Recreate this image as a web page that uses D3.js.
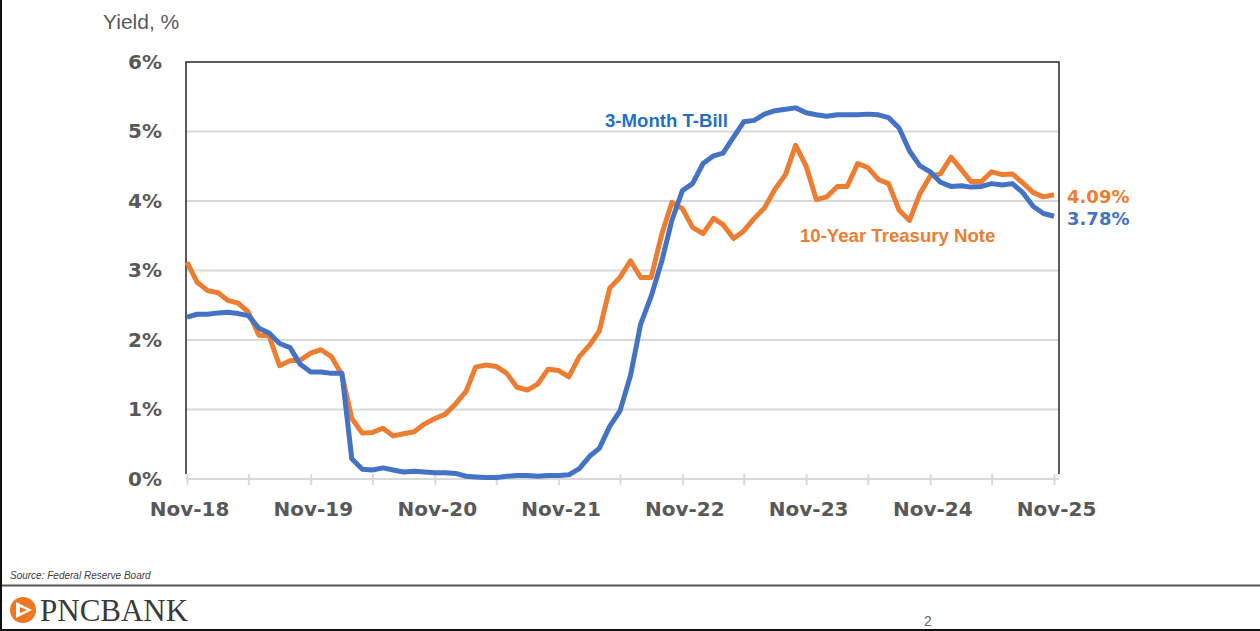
<!DOCTYPE html>
<html>
<head>
<meta charset="utf-8">
<script src="https://cdn.jsdelivr.net/npm/d3@7"></script>
<style>
  html, body { margin: 0; padding: 0; background: #fff; }
  svg { display: block; }
</style>
</head>
<body>
<div id="chart"></div>
<script>
// monthly averages, Nov-18 .. Nov-25
var firstMonth = new Date(2018, 10, 1);
var lastMonth = new Date(2025, 10, 1);
var months = d3.timeMonth.range(firstMonth, d3.timeMonth.offset(lastMonth, 1));

var tbill = [2.33, 2.37, 2.37, 2.39, 2.40, 2.38, 2.35, 2.17, 2.10, 1.95, 1.89, 1.65,
  1.54, 1.54, 1.52, 1.52, 0.29, 0.14, 0.13, 0.16, 0.13, 0.10, 0.11, 0.10,
  0.09, 0.09, 0.08, 0.04, 0.03, 0.02, 0.02, 0.04, 0.05, 0.05, 0.04, 0.05,
  0.05, 0.06, 0.15, 0.33, 0.44, 0.76, 0.98, 1.49, 2.23, 2.63, 3.13, 3.72,
  4.15, 4.25, 4.54, 4.65, 4.69, 4.92, 5.14, 5.16, 5.25, 5.30, 5.32, 5.34,
  5.27, 5.24, 5.22, 5.24, 5.24, 5.24, 5.25, 5.24, 5.20, 5.05, 4.72, 4.51,
  4.42, 4.27, 4.21, 4.22, 4.20, 4.21, 4.25, 4.23, 4.25, 4.12, 3.92, 3.82,
  3.78];

var note10y = [3.12, 2.83, 2.71, 2.68, 2.57, 2.53, 2.40, 2.07, 2.06, 1.63, 1.70, 1.71,
  1.81, 1.86, 1.76, 1.50, 0.87, 0.66, 0.67, 0.73, 0.62, 0.65, 0.68, 0.79,
  0.87, 0.93, 1.08, 1.26, 1.61, 1.64, 1.62, 1.52, 1.32, 1.28, 1.37, 1.58,
  1.56, 1.47, 1.76, 1.93, 2.13, 2.75, 2.90, 3.14, 2.90, 2.90, 3.52, 3.98,
  3.89, 3.62, 3.53, 3.75, 3.66, 3.46, 3.57, 3.75, 3.90, 4.17, 4.38, 4.80,
  4.50, 4.02, 4.06, 4.21, 4.21, 4.54, 4.48, 4.31, 4.25, 3.87, 3.72, 4.10,
  4.36, 4.39, 4.63, 4.45, 4.28, 4.28, 4.42, 4.38, 4.39, 4.26, 4.12, 4.06,
  4.09];

var yTicks = [0, 1, 2, 3, 4, 5, 6];
var seriesNames = ["3-Month T-Bill", "10-Year Treasury Note"];

var width = 1260, height = 631;
var plotLeft = 187, plotRight = 1054, plotTop = 62, plotBottom = 479;
var boxRight = 1059;

var blue = "#4472C4", orange = "#ED7D31", gray = "#595959";

var svg = d3.select("#chart").append("svg").attr("width", width).attr("height", height);

var x = d3.scaleTime().domain([firstMonth, lastMonth]).range([plotLeft, plotRight]);
var y = d3.scaleLinear().domain([0, 6]).range([plotBottom, plotTop]);

// gridlines
svg.append("g").selectAll("line").data(yTicks.filter(function(d) { return d > 0 && d < 6; }))
  .enter().append("line")
  .attr("x1", plotLeft - 1).attr("x2", boxRight)
  .attr("y1", function(d) { return y(d); }).attr("y2", function(d) { return y(d); })
  .attr("stroke", "#d9d9d9").attr("stroke-width", 2);

// plot box (top, left, right)
svg.append("path")
  .attr("d", "M" + (plotLeft - 1) + "," + (plotBottom - 5) + "V" + plotTop + "H" + boxRight + "V" + (plotBottom - 5))
  .attr("fill", "none").attr("stroke", "#262626").attr("stroke-width", 1.5);

// x axis: tick every 6 months, label on Nov
var halfYears = d3.range(0, 15).map(function(i) { return d3.timeMonth.offset(firstMonth, 6 * i); });
var xAxis = d3.axisBottom(x).tickValues(halfYears).tickSize(11).tickSizeOuter(0)
  .tickFormat(function(d) { return d.getMonth() === 10 ? d3.timeFormat("Nov-%y")(d) : ""; });

var gx = svg.append("g").attr("transform", "translate(0," + plotBottom + ")").call(xAxis);
gx.select(".domain").attr("stroke", "#d9d9d9").attr("stroke-width", 2).attr("d", "M" + (plotLeft - 1) + ",0H" + boxRight);
gx.selectAll(".tick line").attr("stroke", "#d9d9d9").attr("stroke-width", 2).attr("y1", -5).attr("y2", 6);
gx.selectAll(".tick text").attr("x", 2).attr("y", 23).attr("dy", "0.71em")
  .attr("font-family", "DejaVu Sans").attr("font-weight", "bold").attr("font-size", 20).attr("fill", gray);

// y axis labels
var yAxis = d3.axisLeft(y).tickValues(yTicks).tickSize(0).tickFormat(function(d) { return d + "%"; });
var gy = svg.append("g").attr("transform", "translate(162,0)").call(yAxis);
gy.select(".domain").remove();
gy.selectAll(".tick text").attr("x", 0)
  .attr("font-family", "DejaVu Sans").attr("font-weight", "bold").attr("font-size", 20).attr("fill", gray);

svg.append("text").attr("x", 103).attr("y", 29).text("Yield, %")
  .attr("font-family", "Liberation Sans").attr("font-size", 21).attr("fill", gray);

// lines
var line = d3.line().x(function(d, i) { return x(months[i]); }).y(function(d) { return y(d); });

svg.append("path").datum(note10y).attr("d", line)
  .attr("fill", "none").attr("stroke", orange).attr("stroke-width", 5).attr("stroke-linejoin", "round");
svg.append("path").datum(tbill).attr("d", line)
  .attr("fill", "none").attr("stroke", blue).attr("stroke-width", 5).attr("stroke-linejoin", "round");

// annotations
svg.append("text").attr("x", 605).attr("y", 127).text(seriesNames[0])
  .attr("font-family", "Liberation Sans").attr("font-weight", "bold").attr("font-size", 18.6).attr("fill", "#2670C4");
svg.append("text").attr("x", 800).attr("y", 242).text(seriesNames[1])
  .attr("font-family", "Liberation Sans").attr("font-weight", "bold").attr("font-size", 18.6).attr("fill", orange);

svg.append("text").attr("x", 1067).attr("y", 203).text(d3.format(".2f")(note10y[note10y.length - 1]) + "%")
  .attr("font-family", "DejaVu Sans").attr("font-weight", "bold").attr("font-size", 18).attr("fill", orange);
svg.append("text").attr("x", 1067).attr("y", 225).text(d3.format(".2f")(tbill[tbill.length - 1]) + "%")
  .attr("font-family", "DejaVu Sans").attr("font-weight", "bold").attr("font-size", 18).attr("fill", blue);

// footer
svg.append("text").attr("x", 10).attr("y", 579).text("Source: Federal Reserve Board")
  .attr("font-family", "Liberation Sans").attr("font-style", "italic").attr("font-size", 10).attr("fill", "#404040");
svg.append("line").attr("x1", 0).attr("x2", width).attr("y1", 585.5).attr("y2", 585.5)
  .attr("stroke", "#555").attr("stroke-width", 2);

var logo = svg.append("g").attr("transform", "translate(23,610)");
logo.append("circle").attr("r", 13).attr("fill", "#EF7622");
logo.append("path").attr("d", "M-7,-8L9,0L-7,8Z").attr("fill", "#fff");
logo.append("path").attr("d", "M-3,-3L4,0L-3,3Z").attr("fill", "#EF7622");
svg.append("text").attr("x", 40).attr("y", 621).text("PNCBANK")
  .attr("font-family", "Liberation Serif").attr("font-size", 31).attr("fill", "#3a3a3a");

svg.append("text").attr("x", 924).attr("y", 626).text("2")
  .attr("font-family", "Liberation Sans").attr("font-size", 14).attr("fill", "#666");

// slide border
svg.append("line").attr("x1", 1).attr("x2", 1).attr("y1", 0).attr("y2", height).attr("stroke", "#111").attr("stroke-width", 2);
svg.append("line").attr("x1", 0).attr("x2", width).attr("y1", 630).attr("y2", 630).attr("stroke", "#111").attr("stroke-width", 2);
</script>
</body>
</html>
